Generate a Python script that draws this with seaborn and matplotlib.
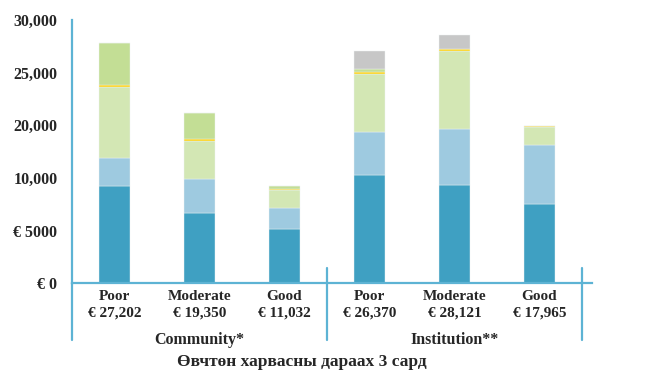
import numpy as np
import seaborn as sns
import matplotlib.pyplot as plt
import matplotlib.transforms as mtransforms

bars = ['Poor\n€ 27,202', 'Moderate\n€ 19,350', 'Good\n€ 11,032',
        'Poor\n€ 26,370', 'Moderate\n€ 28,121', 'Good\n€ 17,965']
groups = ['Community*', 'Institution**']

# stacked segments, bottom to top
dark_blue = [11100, 8010, 6150, 12300, 11200, 9000]
light_blue = [3220, 3840, 2450, 4900, 6380, 6760]
pale_green = [8050, 4320, 2010, 6620, 8860, 2020]
yellow = [280, 230, 170, 290, 220, 140]
green = [4780, 3030, 270, 270, 0, 0]
grey = [0, 0, 0, 2080, 1630, 0]

ytick_values = [0, 6000, 12000, 18000, 24000, 30000]
ytick_labels = ['€ 0', '€ 5000', '10,000', '20,000', '25,000', '30,000']
xlabel = 'Өвчтөн харвасны дараах 3 сард'

axis_color = '#5db3d4'

sns.set_style('white')
plt.rcParams['font.family'] = ['Liberation Serif', 'DejaVu Serif']
plt.rcParams['font.weight'] = 'bold'

fig = plt.figure(figsize=(6.67, 3.72), dpi=100)
ax = fig.add_axes([0.108, 0.2384, 0.7796, 0.7078])

segments = [(dark_blue, '#3fa0c2'), (light_blue, '#9ecae0'),
            (pale_green, '#d3e7b4'), (yellow, '#ffd20a'),
            (green, '#c3de95'), (grey, '#c7c7c7')]
bottom = np.zeros(len(bars))
for values, color in segments:
    sns.barplot(x=bars, y=values, bottom=bottom, color=color, width=0.36,
                saturation=1, errorbar=None, edgecolor='#eef3f3',
                linewidth=0.3, ax=ax)
    bottom += np.array(values)

ax.set_xlim(-0.5, 5.62)
ax.set_ylim(0, 30000)
sns.despine(ax=ax)
for side in ['left', 'bottom']:
    ax.spines[side].set_color(axis_color)
    ax.spines[side].set_linewidth(1.6)

ax.set_yticks(ytick_values, ytick_labels)
ax.tick_params(axis='y', length=7.5, width=1.6, color=axis_color,
               labelsize=11.5, pad=3)
ax.tick_params(axis='x', which='major', length=0, labelsize=11, pad=5)
ax.set_xticks([0.5, 1.5, 3.5, 4.5], minor=True)
ax.tick_params(axis='x', which='minor', length=7.5, width=1.6,
               color=axis_color)
for lab in ax.get_xticklabels():
    lab.set_linespacing(1.35)
ax.set_xlabel('')

trans = mtransforms.blended_transform_factory(ax.transData, ax.transAxes)
for x, top in [(-0.5, 0), (2.5, 0.057), (5.5, 0.057)]:
    ax.plot([x, x], [top, -0.216], color=axis_color, lw=1.6,
            transform=trans, clip_on=False)

for i, g in enumerate(groups):
    ax.text(1 + 3 * i, -0.215, g, transform=trans, ha='center', va='center',
            fontsize=11.5)

fig.text(0.452, 0.027, xlabel, ha='center', va='center', fontsize=12.5)

fig.savefig('out.png', dpi=100)
